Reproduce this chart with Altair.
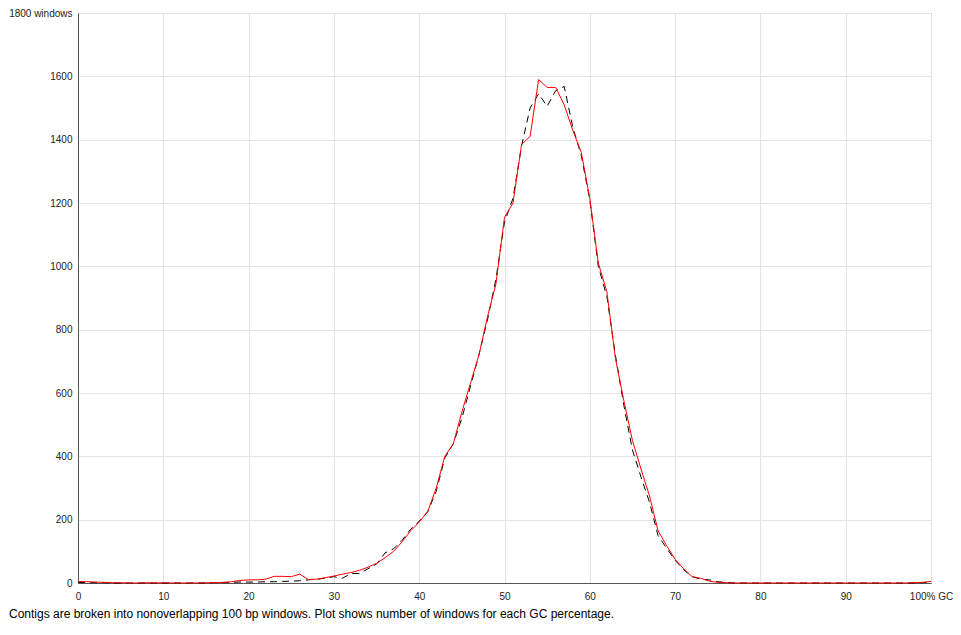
import altair as alt
import pandas as pd

gc = list(range(0, 101))

red_counts = [
    5, 4, 3, 2, 1, 1, 0, 0, 1, 0,
    1, 0, 0, 0, 0, 1, 1, 2, 4, 8,
    10, 10, 12, 21, 21, 20, 28, 11, 12, 17,
    22, 28, 33, 40, 50, 62, 80, 100, 130, 165,
    192, 226, 300, 400, 440, 540, 630, 720, 840, 945,
    1155, 1200, 1385, 1410, 1590, 1565, 1565, 1510, 1430, 1360,
    1215, 1010, 920, 710, 575, 450, 360, 275, 165, 118,
    75, 45, 20, 15, 6, 2, 1, 0, 0, 0,
    0, 0, 0, 0, 0, 0, 0, 0, 0, 0,
    0, 0, 0, 0, 0, 0, 0, 0, 1, 2,
    5,
]

black_counts = [
    2, 1, 1, 1, 0, 0, 0, 0, 0, 0,
    0, 0, 0, 0, 0, 0, 1, 1, 2, 3,
    3, 3, 4, 4, 5, 6, 7, 10, 12, 15,
    20, 15, 30, 30, 45, 60, 95, 108, 135, 170,
    195, 225, 290, 395, 440, 520, 620, 720, 830, 960,
    1140, 1215, 1380, 1500, 1545, 1505, 1555, 1568, 1440, 1350,
    1210, 1000, 905, 720, 560, 420, 335, 255, 150, 110,
    72, 42, 20, 12, 10, 4, 2, 0, 0, 0,
    0, 0, 0, 0, 0, 0, 0, 0, 0, 0,
    0, 0, 0, 0, 0, 0, 0, 0, 0, 1,
    3,
]

x_ticks = list(range(0, 101, 10))
y_ticks = list(range(0, 1801, 200))
footer = ("Contigs are broken into nonoverlapping 100 bp windows. "
          "Plot shows number of windows for each GC percentage.")

df_red = pd.DataFrame({"gc": gc, "count": red_counts})
df_black = pd.DataFrame({"gc": gc, "count": black_counts})

FONT = "Liberation Sans"

x_enc = alt.X(
    "gc:Q",
    scale=alt.Scale(domain=[0, 100], nice=False, zero=False),
    axis=alt.Axis(
        values=x_ticks,
        labelExpr="datum.value == 100 ? '100% GC' : datum.label",
        title=None,
        grid=True,
        gridColor="#e3e3e3",
        ticks=False,
        domainColor="#555555",
        labelPadding=8,
        labelFont=FONT,
        labelFontSize=10,
        labelColor="#222222",
        labelFlush=False,
    ),
)
y_enc = alt.Y(
    "count:Q",
    scale=alt.Scale(domain=[0, 1800], nice=False),
    axis=alt.Axis(
        values=y_ticks,
        format="d",
        labelExpr="datum.value == 1800 ? '1800 windows' : datum.label",
        title=None,
        grid=True,
        gridColor="#e3e3e3",
        ticks=False,
        domainColor="#555555",
        labelPadding=6,
        labelFont=FONT,
        labelFontSize=10,
        labelColor="#222222",
        labelFlush=False,
    ),
)

black = alt.Chart(df_black).mark_line(
    color="black", strokeWidth=1, strokeDash=[7, 5]
).encode(x=x_enc, y=y_enc)

red = alt.Chart(df_red).mark_line(
    color="#ff0000", strokeWidth=1
).encode(x=x_enc, y=y_enc)

chart = alt.layer(black, red).properties(
    width=853,
    height=570,
    autosize=alt.AutoSizeParams(type="none"),
    padding={"left": 70, "top": 5, "right": 22, "bottom": 42},
    title=alt.TitleParams(
        text=footer,
        orient="bottom",
        anchor="start",
        frame="group",
        dx=-69,
        offset=8,
        baseline="top",
        font=FONT,
        fontSize=12,
        fontWeight="normal",
        color="#000000",
    ),
).configure_view(
    stroke="#555555",
    strokeWidth=1,
)

chart.save("out.html", embed_options={"renderer": "svg", "actions": False})
